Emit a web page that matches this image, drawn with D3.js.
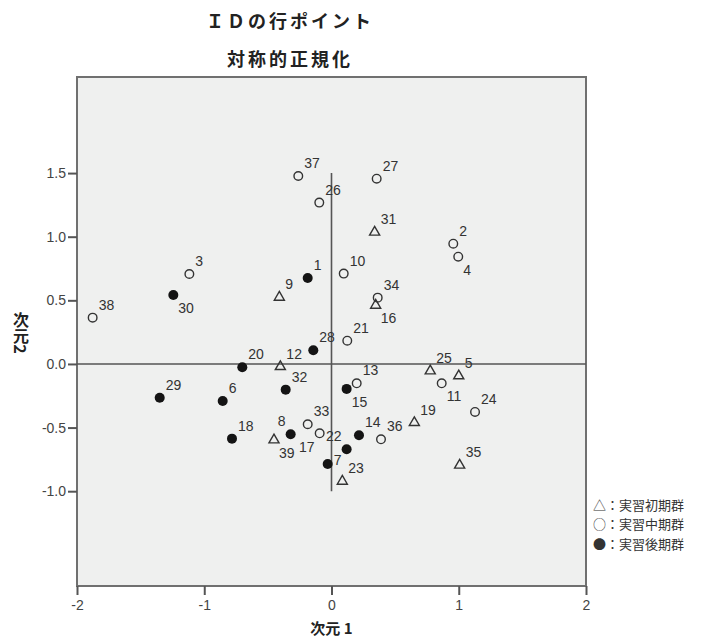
<!DOCTYPE html>
<html>
<head>
<meta charset="utf-8">
<script src="https://cdn.jsdelivr.net/npm/d3@7"></script>
<style>
  body { margin: 0; background: #fff; }
  svg text { font-family: "Liberation Sans", Arial, sans-serif; }
  .jp { font-family: "Noto Sans CJK JP", "Noto Sans", sans-serif; }
</style>
</head>
<body>
<div id="chart"></div>
<script>
// Row points (ID), symmetric normalization
const ids = [1, 2, 3, 4, 5, 6, 7, 8, 9, 10, 11, 12, 13, 14, 15, 16, 17, 18, 19, 20,
  21, 22, 23, 24, 25, 26, 27, 28, 29, 30, 31, 32, 33, 34, 35, 36, 37, 38, 39];
const dim1 = [-0.187, 0.957, -1.117, 0.996, 1.000, -0.855, -0.030, -0.321, -0.410, 0.096,
  0.866, -0.402, 0.198, 0.216, 0.119, 0.347, -0.093, -0.782, 0.651, -0.701,
  0.124, 0.119, 0.085, 1.128, 0.776, -0.096, 0.355, -0.143, -1.350, -1.243,
  0.339, -0.360, -0.187, 0.363, 1.007, 0.389, -0.261, -1.877, -0.452];
const dim2 = [0.676, 0.945, 0.707, 0.843, -0.094, -0.291, -0.786, -0.552, 0.524, 0.710,
  -0.152, -0.021, -0.152, -0.560, -0.196, 0.461, -0.545, -0.587, -0.461, -0.026,
  0.183, -0.670, -0.922, -0.377, -0.055, 1.268, 1.456, 0.108, -0.265, 0.542,
  1.035, -0.202, -0.474, 0.521, -0.796, -0.592, 1.477, 0.364, -0.597];
// t = 実習初期群, o = 実習中期群, f = 実習後期群
const groups = ['f', 'o', 'o', 'o', 't', 'f', 'f', 'f', 't', 'o',
  'o', 't', 'o', 'f', 'f', 't', 'o', 'f', 't', 'f',
  'o', 'f', 't', 'o', 't', 'o', 'o', 'f', 'f', 'f',
  't', 'f', 'o', 'o', 't', 'o', 'o', 'o', 't'];

const xTicks = [-2, -1, 0, 1, 2];
const yTicks = [-1.0, -0.5, 0.0, 0.5, 1.0, 1.5];
const legendItems = ['△：実習初期群', '○：実習中期群', '●：実習後期群'];

// where each point label sits (default: upper right)
const labelSide = { 30: 'lr', 39: 'lr', 15: 'lr', 11: 'lr', 4: 'lr', 16: 'lr',
  8: 'ul', 22: 'ul', 17: 'll', 7: 'r' };

const width = 706, height = 642;
const margin = { left: 77, top: 77, right: 120, bottom: 56 };
const plotW = 509, plotH = 509;

const svg = d3.select('#chart').append('svg')
  .attr('width', width)
  .attr('height', height);

const x = d3.scaleLinear().domain([-2, 2]).range([margin.left, margin.left + plotW]);
const y = d3.scaleLinear().domain([-1.745, 2.255]).range([margin.top + plotH, margin.top]);

// plot background + frame
svg.append('rect')
  .attr('x', margin.left).attr('y', margin.top)
  .attr('width', plotW).attr('height', plotH)
  .attr('fill', '#eff0ef')
  .attr('stroke', '#707070')
  .attr('stroke-width', 2);

// axes
const xAxis = svg.append('g')
  .attr('transform', `translate(0,${margin.top + plotH})`)
  .call(d3.axisBottom(x).tickValues(xTicks).tickSize(9).tickPadding(5));
const yAxis = svg.append('g')
  .attr('transform', `translate(${margin.left},0)`)
  .call(d3.axisLeft(y).tickValues(yTicks).tickSize(9).tickPadding(2));

[xAxis, yAxis].forEach(g => {
  g.select('.domain').remove();
  g.selectAll('line').attr('stroke', '#555').attr('stroke-width', 2);
  g.selectAll('text')
    .attr('fill', '#444')
    .style('font-size', '14px')
    .style('font-family', '"Liberation Sans", Arial, sans-serif');
});
// plain hyphen minus like the original
xAxis.selectAll('text').text(d => (d < 0 ? '-' : '') + Math.abs(d));
yAxis.selectAll('text').text(d => (d < 0 ? '-' : '') + Math.abs(d).toFixed(1));

// reference lines through the origin
svg.append('line')
  .attr('x1', x(-2)).attr('x2', x(2))
  .attr('y1', y(0)).attr('y2', y(0))
  .attr('stroke', '#555').attr('stroke-width', 1.6);
svg.append('line')
  .attr('x1', x(0)).attr('x2', x(0))
  .attr('y1', y(1.5)).attr('y2', y(-1.0))
  .attr('stroke', '#555').attr('stroke-width', 1.6);

// points
const data = ids.map((id, i) => ({ id, d1: dim1[i], d2: dim2[i], g: groups[i] }));
const tri = d3.symbol().type(d3.symbolTriangle).size(44);

const pts = svg.append('g');
pts.selectAll('path.tri')
  .data(data.filter(d => d.g === 't'))
  .join('path')
  .attr('class', 'tri')
  .attr('transform', d => `translate(${x(d.d1)},${y(d.d2)})`)
  .attr('d', tri)
  .attr('fill', 'none')
  .attr('stroke', '#333')
  .attr('stroke-width', 1.4);
pts.selectAll('circle.mid')
  .data(data.filter(d => d.g === 'o'))
  .join('circle')
  .attr('class', 'mid')
  .attr('cx', d => x(d.d1)).attr('cy', d => y(d.d2))
  .attr('r', 4.3)
  .attr('fill', 'none')
  .attr('stroke', '#333')
  .attr('stroke-width', 1.4);
pts.selectAll('circle.late')
  .data(data.filter(d => d.g === 'f'))
  .join('circle')
  .attr('class', 'late')
  .attr('cx', d => x(d.d1)).attr('cy', d => y(d.d2))
  .attr('r', 5)
  .attr('fill', '#141414');

// point labels
const side = {
  ur: { dx: 6, dy: -13, anchor: 'start' },
  lr: { dx: 5, dy: 13, anchor: 'start' },
  ul: { dx: -5, dy: -13, anchor: 'end' },
  ll: { dx: -5, dy: 14, anchor: 'end' },
  r:  { dx: 6, dy: -4, anchor: 'start' }
};
svg.append('g').selectAll('text')
  .data(data)
  .join('text')
  .attr('x', d => x(d.d1) + side[labelSide[d.id] || 'ur'].dx)
  .attr('y', d => y(d.d2) + side[labelSide[d.id] || 'ur'].dy)
  .attr('dy', '0.36em')
  .attr('text-anchor', d => side[labelSide[d.id] || 'ur'].anchor)
  .attr('fill', '#333')
  .style('font-size', '14px')
  .text(d => d.id);

// titles
svg.append('text')
  .attr('class', 'jp')
  .attr('x', 290).attr('y', 22).attr('dy', '0.36em')
  .attr('text-anchor', 'middle')
  .attr('fill', '#222')
  .style('font-size', '18px').style('font-weight', 'bold').style('letter-spacing', '3px')
  .text('ＩＤの行ポイント');
svg.append('text')
  .attr('class', 'jp')
  .attr('x', 290).attr('y', 60).attr('dy', '0.36em')
  .attr('text-anchor', 'middle')
  .attr('fill', '#222')
  .style('font-size', '18px').style('font-weight', 'bold').style('letter-spacing', '3px')
  .text('対称的正規化');

// axis titles
svg.append('text')
  .attr('class', 'jp')
  .attr('x', x(0)).attr('y', 629).attr('dy', '0.35em')
  .attr('text-anchor', 'middle')
  .attr('fill', '#222')
  .style('font-size', '15px').style('font-weight', 'bold')
  .text('次元 1');
svg.append('text')
  .attr('class', 'jp')
  .attr('x', 21).attr('y', 333)
  .attr('text-anchor', 'middle')
  .attr('fill', '#222')
  .style('writing-mode', 'vertical-rl')
  .style('font-size', '16px').style('font-weight', 'bold')
  .text('次元2');

// legend
svg.append('g').selectAll('text')
  .data(legendItems)
  .join('text')
  .attr('class', 'jp')
  .attr('x', 593)
  .attr('y', (d, i) => 505 + i * 19.5)
  .attr('dy', '0.36em')
  .attr('fill', '#333')
  .style('font-size', '13px')
  .text(d => d);
</script>
</body>
</html>
